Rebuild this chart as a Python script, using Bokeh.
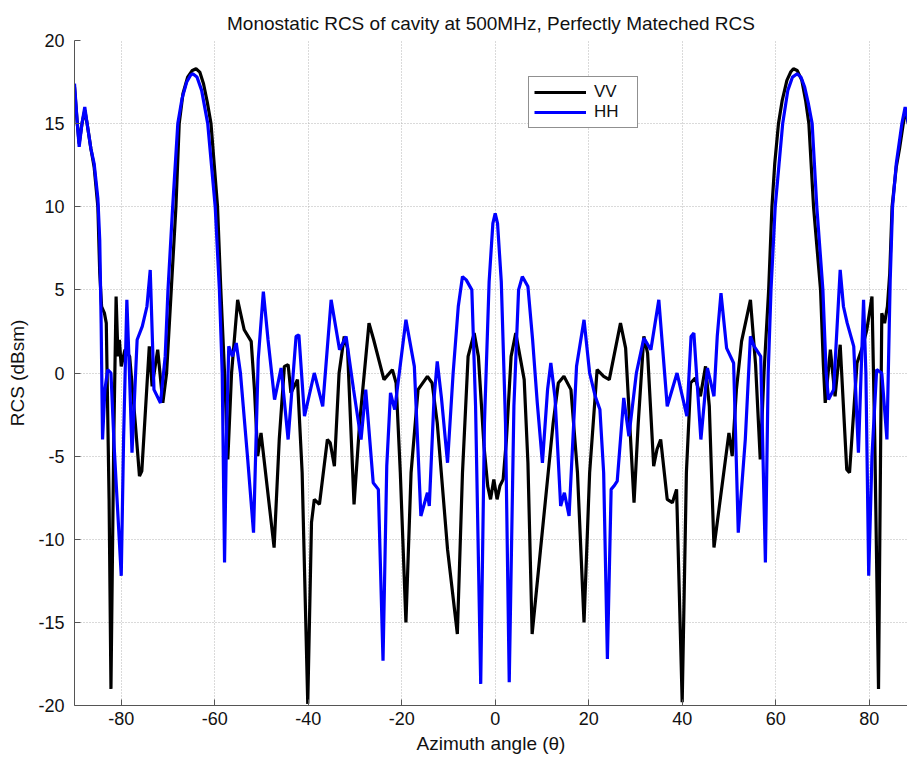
from bokeh.plotting import figure
from bokeh.models import Range1d, FixedTicker, Legend, LegendItem, PrintfTickFormatter
from bokeh.embed import file_html
from bokeh.resources import INLINE

# Azimuth angle (deg) and RCS (dBsm)
vv_angle = [-90, -89.4, -89.0, -88.4, -87.8, -87.3, -86.5, -85.8, -85.0, -84.6, -84.2, -83.6, -83.2,
            -82.6, -82.2, -81.6, -81.1, -80.7, -80.4, -80.0, -79.2, -78.2, -77.0, -76.1, -75.6, -74.0,
            -73.4, -72.2, -71.1, -70.3, -69.3, -68.3, -67.6, -66.8, -65.8, -64.8, -64.0, -63.2, -62.4,
            -61.6, -60.8, -60.1, -59.4, -58.7, -57.9, -57.2, -56.4, -55.1, -53.7, -52.2, -51.5, -50.8,
            -50.1, -47.3, -46.2, -45.1, -44.3, -43.7, -42.3, -41.3, -40.1, -39.3, -38.7, -37.6, -35.9,
            -35.3, -34.4, -33.4, -32.3, -31.6, -30.2, -29.0, -27.0, -26.0, -23.8, -22.0, -21.2, -20.3,
            -19.1, -18.0, -16.5, -14.5, -13.5, -12.4, -10.2, -8.1, -7.0, -5.8, -4.5, -3.6, -2.4, -1.6,
            -1.0, -0.3, 0.4, 1.0, 1.7, 2.4, 3.4, 4.4, 5.3, 6.2, 7.0, 7.9, 9.7, 12.4, 13.5, 14.7, 16.2,
            17.6, 19.0, 20.2, 21.8, 23.2, 24.4, 26.8, 27.9, 29.7, 30.6, 31.8, 32.6, 33.9, 34.6, 35.4,
            36.8, 37.9, 38.8, 40.0, 40.9, 41.8, 42.8, 43.9, 45.0, 45.8, 46.8, 50.0, 50.7, 51.6, 52.7,
            54.6, 55.7, 56.7, 57.5, 58.5, 59.2, 59.8, 60.6, 61.4, 62.4, 63.2, 63.8, 64.6, 65.6, 66.4,
            67.1, 68.1, 69.6, 70.2, 70.6, 71.7, 72.7, 73.8, 75.2, 75.8, 77.4, 78.6, 79.5, 80.6, 81.2,
            82.0, 82.4, 82.7, 83.3, 83.9, 84.4, 84.9, 85.8, 86.5, 87.3, 87.8, 88.4, 89.0, 89.4, 90.0]
vv_rcs = [17.2, 15.0, 13.8, 15.0, 15.8, 15.0, 13.5, 12.4, 10.0, 6.0, 4.0, 3.6, 3.0,
          -7.6, -19.0, -4.0, 4.6, 1.0, 2.0, 0.4, 1.4, 1.0, -3.0, -6.2, -5.9, 1.6,
          -0.8, 1.4, -1.8, 0.0, 5.0, 10.0, 15.0, 16.8, 17.8, 18.2, 18.3, 18.1, 17.4,
          16.3, 15.0, 12.5, 10.0, 5.0, 0.0, -5.2, 0.0, 4.4, 2.6, 1.9, -1.0, -5.0,
          -3.6, -10.5, -4.0, 0.4, 0.5, -1.2, -0.4, -6.0, -19.9, -9.0, -7.6, -7.9, -4.0,
          -4.2, -5.6, 0.0, 2.2, 1.5, -7.9, -3.0, 3.0, 2.0, -0.4, 0.2, -0.6, -6.0,
          -15.0, -6.0, -1.0, -0.2, -0.6, -3.0, -10.6, -15.7, -6.0, 1.0, 2.4, 1.0, -4.4, -6.8,
          -7.6, -6.4, -7.6, -6.8, -6.4, -4.0, 1.0, 2.4, 1.0, -0.4, -5.4, -15.7, -10.6, -3.0, -0.6, -0.2, -1.0,
          -6.0, -15.0, -6.0, 0.2, -0.2, -0.4, 3.0, 1.5, -7.8, -3.0, 2.2, 1.2, -5.6, -4.6, -4.0,
          -7.6, -7.8, -7.0, -19.8, -6.0, -0.6, -0.3, -1.4, 0.4, -2.0, -10.5, -3.6, -5.0, -1.0, 1.9,
          4.4, 0.5, -5.2, 0.0, 5.0, 10.0, 12.6, 15.0, 16.4, 17.6, 18.1, 18.3, 18.2, 17.6, 16.4,
          15.0, 10.0, 5.0, 0.5, -1.8, 1.4, -1.4, 1.7, -5.8, -6.0, 0.6, 1.6, 2.6, 4.6, -4.0,
          -19.0, -6.0, 3.6, 3.0, 4.0, 6.0, 10.0, 12.4, 13.5, 15.0, 15.8, 15.0, 13.8, 15.0, 17.2]

hh_angle = [-90, -89.4, -89.0, -88.4, -87.8, -87.3, -86.5, -85.8, -85.0, -84.6, -84.3, -84.0, -83.5,
            -82.9, -82.2, -81.5, -80.0, -79.5, -78.8, -78.3, -77.7, -76.6, -75.5, -74.5, -73.8, -73.0,
            -71.6, -70.6, -70.0, -69.0, -67.9, -67.0, -66.0, -65.2, -64.7, -63.8, -62.8, -61.5, -60.7,
            -59.9, -59.0, -58.4, -57.9, -57.5, -57.0, -56.2, -55.4, -54.5, -53.0, -51.7, -50.7, -49.6,
            -48.6, -47.2, -45.8, -44.3, -42.6, -42.0, -40.8, -38.7, -36.9, -35.1, -33.3, -31.9, -30.3,
            -28.7, -27.7, -26.1, -25.0, -24.0, -23.2, -22.4, -21.5, -19.1, -17.3, -15.9, -14.5, -14.1,
            -13.1, -12.4, -11.5, -10.2, -9.0, -7.9, -7.0, -6.2, -5.0, -4.2, -3.1, -2.3, -1.3, -0.5,
            0.0, 0.5, 1.3, 2.2, 3.0, 4.0, 5.0, 5.8, 7.0, 8.0, 9.0, 10.1, 11.2, 11.9, 12.8, 14.0,
            14.8, 15.8, 17.4, 19.0, 20.2, 21.4, 22.4, 23.2, 24.0, 24.8, 25.4, 26.1, 27.5, 28.6, 30.2,
            31.8, 33.3, 35.0, 36.8, 38.9, 41.0, 41.9, 42.5, 44.0, 45.4, 46.8, 47.5, 48.3, 49.5, 51.0,
            52.0, 53.5, 54.6, 55.4, 56.8, 57.8, 58.4, 59.0, 59.9, 60.7, 61.5, 62.6, 63.6, 64.6, 65.4,
            66.2, 67.0, 67.8, 68.8, 70.1, 70.8, 71.3, 72.4, 73.8, 74.5, 75.3, 76.7, 77.7, 78.8, 79.3,
            79.9, 80.6, 81.6, 82.7, 83.8, 84.5, 85.0, 85.8, 87.0, 87.7, 88.4, 89.0, 89.5, 90.0]
hh_rcs = [17.4, 15.0, 13.6, 15.0, 16.0, 15.0, 13.5, 12.6, 10.5, 8.0, 3.0, -4.0, -1.0,
          0.2, 0.0, -4.5, -12.2, -4.0, 4.4, 0.5, -4.8, 2.0, 2.8, 4.0, 6.2, -1.0,
          -1.8, 1.0, 5.0, 10.0, 15.0, 16.5, 17.5, 17.9, 18.0, 17.8, 17.0, 15.0, 12.5,
          10.0, 5.0, 0.0, -11.4, -4.0, 1.6, 1.0, 1.8, 0.0, -5.0, -9.6, 0.8, 4.9,
          2.0, -1.6, 0.3, -4.0, 2.2, 2.3, -2.6, 0.0, -2.0, 4.4, 1.4, 2.2, -1.0,
          -4.0, -1.0, -6.6, -7.0, -17.3, -5.6, -1.2, -2.2, 3.2, 0.4, -8.6, -7.2, -8.0,
          -1.6, 0.7, -1.5, -5.4, 0.0, 4.0, 5.8, 5.6, 5.0, -2.0, -18.7, -3.0, 5.5, 9.0,
          9.6, 9.0, 5.5, -3.0, -18.6, -2.0, 5.0, 5.8, 5.2, 2.0, -1.8, -5.4, -1.0, 0.6, -1.5, -8.0,
          -7.2, -8.6, 0.4, 3.2, 0.0, -1.4, -2.2, -6.0, -17.2, -7.0, -6.8, -6.5, -1.5, -3.8, 0.0,
          2.1, 1.4, 4.4, -2.0, 0.0, -2.6, 2.2, 2.4, -4.0, 0.3, -1.4, 2.2, 4.8, 1.5, 0.6,
          -9.6, -4.0, 2.2, 1.6, 1.0, -11.4, 0.0, 5.0, 10.0, 12.5, 15.0, 17.0, 17.8, 18.0, 17.8,
          17.2, 16.2, 15.0, 10.0, 5.0, 0.0, -1.6, -1.0, 6.2, 4.0, 3.0, 1.6, -4.8, 4.4, 0.0,
          -12.2, -5.0, 0.2, 0.0, -4.0, 5.6, 10.0, 12.6, 15.0, 16.0, 15.0, 13.6, 15.0, 17.4]

x_ticks = [-80, -60, -40, -20, 0, 20, 40, 60, 80]
y_ticks = [-20, -15, -10, -5, 0, 5, 10, 15, 20]

FONT = "Liberation Sans"

p = figure(width=907, height=760, output_backend="svg", toolbar_location=None,
           x_range=Range1d(-90, 88.2), y_range=Range1d(-20, 20),
           min_border_left=74, min_border_right=0, min_border_top=40, min_border_bottom=55,
           background_fill_color="white", border_fill_color="white")
p.outline_line_color = None

p.title.text = "Monostatic RCS of cavity at 500MHz, Perfectly Mateched RCS"
p.title.align = "center"
p.title.text_font = FONT
p.title.text_font_size = "19px"
p.title.text_font_style = "normal"
p.title.text_color = "#111111"
p.title.standoff = 14

for ax, ticks in ((p.xaxis[0], x_ticks), (p.yaxis[0], y_ticks)):
    ax.ticker = FixedTicker(ticks=ticks)
    ax.formatter = PrintfTickFormatter(format="%d")
    ax.major_tick_in = 6
    ax.major_tick_out = 0
    ax.minor_tick_line_color = None
    ax.axis_line_color = "#555555"
    ax.major_tick_line_color = "#555555"
    ax.major_label_text_font = FONT
    ax.major_label_text_font_size = "18px"
    ax.major_label_text_color = "#111111"
    ax.axis_label_text_font = FONT
    ax.axis_label_text_font_size = "19px"
    ax.axis_label_text_font_style = "normal"
    ax.axis_label_text_color = "#111111"

p.xaxis.axis_label = "Azimuth angle (\u03b8)"
p.yaxis.axis_label = "RCS (dBsm)"
p.xaxis.major_label_standoff = 6
p.yaxis.major_label_standoff = 10
p.xaxis.axis_label_standoff = 5
p.yaxis.axis_label_standoff = 7

for g in (p.xgrid[0], p.ygrid[0]):
    g.grid_line_color = "#b4b4b4"
    g.grid_line_dash = "1 2"
    g.grid_line_width = 1

vv = p.line(vv_angle, vv_rcs, line_color="black", line_width=3.2)
hh = p.line(hh_angle, hh_rcs, line_color="#0000ff", line_width=3.2)

legend = Legend(items=[LegendItem(label="VV", renderers=[vv]),
                       LegendItem(label="HH", renderers=[hh])],
                location=(454, 577))
legend.label_text_font = FONT
legend.label_text_font_size = "17px"
legend.label_text_color = "#111111"
legend.padding = 5
legend.margin = 0
legend.spacing = 0
legend.glyph_width = 52
legend.glyph_height = 20
legend.label_height = 20
legend.label_width = 38
legend.label_standoff = 8
legend.border_line_color = "#222222"
legend.border_line_width = 1
legend.background_fill_color = "white"
legend.background_fill_alpha = 1.0
p.add_layout(legend, "center")

open("out.html", "w").write(file_html(p, INLINE))
